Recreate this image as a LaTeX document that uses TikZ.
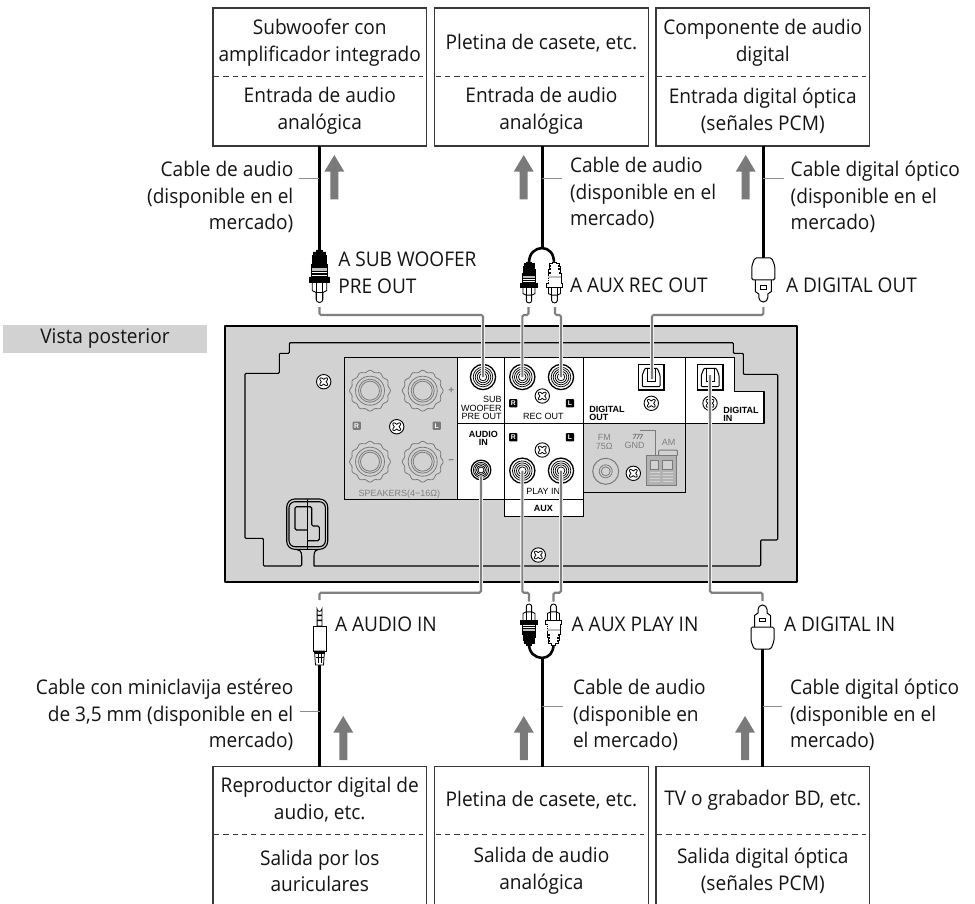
\documentclass[tikz,border=0pt]{standalone}
\usepackage{fontspec}
\setmainfont[FakeStretch=0.945]{Open Sans}
\newfontfamily\panelfont{Liberation Sans}
\definecolor{chassis}{HTML}{D2D2D2}
\definecolor{midgray}{HTML}{7A7A7A}
\definecolor{wiregray}{HTML}{808080}
\tikzset{
  devbox/.style={draw=black!78,line width=1.1pt,fill=white,minimum width=213.5pt,inner sep=0pt,outer sep=0pt},
  sepline/.style={draw=black!78,line width=.9pt,dash pattern=on 5.2pt off 4.1pt},
  txt/.style={font=\fontsize{20.2}{26.8}\selectfont,inner sep=0pt,outer sep=0pt,text=black!92},
  txtc/.style={txt,align=center,anchor=center},
  txtl/.style={txt,align=left,anchor=west},
  txtr/.style={txt,align=right,anchor=east},
  cable/.style={draw=black,line width=3pt},
  leader/.style={draw=black!45,line width=.9pt},
  wire/.style={draw=wiregray,line width=2.1pt,rounded corners=1.5pt,preaction={draw=white,line width=3.8pt}},
  flowarrow/.style={fill=midgray,draw=none},
  pan/.style={font=\panelfont\fontsize{9}{8.6}\selectfont,inner sep=0pt,outer sep=0pt,align=center},
  panb/.style={pan,font=\panelfont\bfseries\fontsize{9}{8.3}\selectfont},
  pang/.style={pan,text=black!50},
  outl/.style={draw=black,line width=1.1pt,rounded corners=1pt},
  grayl/.style={draw=black!52,line width=.8pt},
}
\newcommand{\flowup}[3]{\fill[flowarrow] (#1,#2)--(#1+10,#2+16.7)--(#1+4,#2+16.7)--(#1+4,#3)--(#1-4,#3)--(#1-4,#2+16.7)--(#1-10,#2+16.7)--cycle;}
\newcommand{\screw}[2]{\begin{scope}[shift={(#1,#2)}]
  \draw[black,fill=white,line width=.9pt] (0,0) circle (7.2);
  \draw[black,line width=.8pt] plot[domain=0:360,samples=49,smooth] ({cos(\x)*(3.7+1.3*cos(4*\x+180))},{sin(\x)*(3.7+1.3*cos(4*\x+180))});
\end{scope}}
\newcommand{\knob}[2]{\begin{scope}[shift={(#1,#2)}]
  \draw[grayl] plot[domain=0:360,samples=145,smooth] ({cos(\x)*(19.5+.9*cos(12*\x))},{sin(\x)*(19.5+.9*cos(12*\x))});
  \draw[grayl] (0,0) circle (14.5);
  \draw[grayl] (0,0) circle (11.5);
  \draw[grayl] (0,0) circle (9.5);
\end{scope}}
\newcommand{\socket}[3]{\begin{scope}[shift={(#1,#2)},scale=#3]
  \draw[black,fill=white,line width=1.3pt] (0,0) circle (12.6);
  \foreach \r in {9.8,7.8,5.8,3.8}{\draw[black,line width=.75pt] (0,0) circle (\r);}
\end{scope}}
\newcommand{\badgeN}[5]{\node[rectangle,rounded corners=.8pt,fill=#3,text=white,minimum size=8.2pt,inner sep=0pt,font=\panelfont\bfseries\fontsize{6.8}{7}\selectfont] (#5) at (#1,#2) {#4};}
\newcommand{\rca}[5]{%
\begin{scope}[shift={(#1,#2)},xscale=#3,yscale=#4]
  \draw[black,fill=white,line width=.9pt] (-3,34)--(-3,49.5) arc[start angle=180,end angle=0,radius=3] --(3,34)--cycle;
  \draw[black,fill=white,line width=.9pt] (-6.5,31)--(-6.5,40.5)--(-3,42.5)--(3,42.5)--(6.5,40.5)--(6.5,31)--cycle;
  \draw[black,line width=.9pt] (-3,31)--(-3,49.5) (3,31)--(3,49.5);
  \draw[black,fill=#5,line width=.7pt] (-2.5,0)--(2.5,0)--(2.5,2)--(5.5,2)--(5.5,4.5)--(4,4.5)--(4,5.5)--(6,5.5)--(6,8.5)--(4.5,8.5)--(4.5,9.5)--(6.5,9.5)--(6.5,13)--(5,13)--(5,14)--(7,14)--(7,27)--(9,27)--(9,32)--(-9,32)--(-9,27)--(-7,27)--(-7,14)--(-5,14)--(-5,13)--(-6.5,13)--(-6.5,9.5)--(-4.5,9.5)--(-4.5,8.5)--(-6,8.5)--(-6,5.5)--(-4,5.5)--(-4,4.5)--(-5.5,4.5)--(-5.5,2)--(-2.5,2)--cycle;
  \fill[white!75!black] (-6.6,18.5) rectangle (6.6,21);
  \fill[white] (-6.6,22.3) rectangle (6.6,23.3);
  \fill[white] (-6.6,24.6) rectangle (6.6,25.6);
\end{scope}}
\newcommand{\optical}[3]{\begin{scope}[shift={(#1,#2)},yscale=#3]
  \draw[black,fill=white,line width=1pt] (-8,20)--(-8,33.5)--(-4.5,36)--(-4.5,39.5) arc[start angle=180,end angle=0,radius=4.5] --(4.5,36)--(8,33.5)--(8,20)--cycle;
  \draw[black,line width=.8pt] (-3,27.5) rectangle (3,31);
  \draw[black,fill=white,line width=1pt,rounded corners=1.5pt] (-8.5,0)--(8.5,0)--(11.5,8)--(11.5,22)--(-11.5,22)--(-11.5,8)--cycle;
\end{scope}}
\begin{document}
\begin{tikzpicture}[x=1pt,y=-1pt]
\useasboundingbox (0,0) rectangle (975,904);

% ---------- section tag
\fill[chassis] (3,325) rectangle (206.7,352.7);
\node[txt] (tag) at (105,338.5) {Vista posterior};

% ---------- chassis
\draw[black,fill=chassis,line width=2.6pt,line join=round] (225,326) rectangle (797,582);
\draw[outl] (314,566)--(760.7,566)--(760.7,540)--(777.7,540)--(777.7,374.3)--(743.3,374.3)--(743.3,353.3)--(733.3,353.3)--(733.3,342.7)--(289.3,342.7)--(289.3,353.3)--(279.3,353.3)--(279.3,373.3)--(245,373.3)--(245,538.3)--(263.3,538.3)--(263.3,566)--(301.7,566)--(301.7,556);
\draw[black,line width=1.1pt] (301.7,556) .. controls (301.7,551) and (299,549.3) .. (296,549.3);
\draw[black,line width=1.1pt] (314,566)--(314,556) .. controls (314,551) and (316,549.3) .. (319,549.3);
\draw[black,line width=1.1pt,rounded corners=8pt] (286.7,499) rectangle (327.7,549.3);
\draw[black,line width=1.1pt,rounded corners=6pt] (289,501.7) rectangle (325.4,546.7);
\draw[black,line width=1.1pt,rounded corners=1.5pt] (307.3,530)--(295,530)--(295,506.7)--(311.7,506.7)--(311.7,526)--(319.3,526)--(319.3,540.7)--(307.3,540.7);
\draw[black,line width=1.1pt] (307.3,499)--(307.3,549.3);

% panels
\draw[black,fill=white,line width=1.1pt,line join=round] (457.7,357.7)--(734.3,357.7)--(734.3,391.7)--(764,391.7)--(764,423.3)--(685.7,423.3)--(685.7,492.3)--(583.3,492.3)--(583.3,516.7)--(504.3,516.7)--(504.3,499.3)--(457.7,499.3)--cycle;
\draw[black,fill=chassis,line width=1.1pt] (457.7,357.7)--(344.3,357.7)--(344.3,499.3)--(457.7,499.3)--cycle;
\draw[black,fill=chassis,line width=1.1pt] (583.3,423.3)--(685.7,423.3)--(685.7,492.3)--(583.3,492.3)--cycle;
\draw[black,line width=1.1pt] (457.7,423.3)--(583.3,423.3) (504.3,357.7)--(504.3,516.7) (583.3,357.7)--(583.3,516.7) (685.7,357.7)--(685.7,423.3) (504.3,499.3)--(583.3,499.3);

% speakers
\knob{370}{390.7}\knob{422.7}{390.7}\knob{370}{461.7}\knob{422.7}{461.7}
\node[pang,font=\panelfont\bfseries\fontsize{10}{10}\selectfont] (plus) at (451.3,390.7) {+};
\node[pang,font=\panelfont\bfseries\fontsize{10}{10}\selectfont] (minus) at (451.3,461.7) {−};
\node[pang] (spk) at (399.3,493.7) {SPEAKERS(4−16Ω)};
\badgeN{356.7}{425.7}{midgray}{R}{sr}
\badgeN{436.7}{425.7}{midgray}{L}{sl}
% screws
\screw{323.7}{381.7}\screw{396.7}{426.7}\screw{542.3}{396}\screw{542.3}{450}\screw{538.3}{555}\screw{651.3}{403.3}\screw{710}{403.3}\screw{633.3}{473.3}
% sockets
\socket{483}{377}{1}\socket{522.3}{377}{1}\socket{561}{377}{1}
\socket{481}{470}{.78}\socket{522.3}{470.7}{1}\socket{561}{470.7}{1}
\badgeN{513.3}{403.3}{black}{R}{rr}
\badgeN{570}{403.3}{black}{L}{rl}
\badgeN{513.3}{437.3}{black}{R}{pr}
\badgeN{570}{437.3}{black}{L}{pl}
% panel texts
\node[pan,align=right,anchor=east] (subt) at (501.7,408.2) {SUB\\WOOFER\\PRE OUT};
\node[pan] (rect) at (543.3,416.3) {REC OUT};
\node[panb] (audt) at (483.3,438.5) {AUDIO\\IN};
\node[pan] (playt) at (543.3,491.7) {PLAY IN};
\node[panb] (auxt) at (543.3,508.3) {AUX};
\node[panb,align=left,anchor=west] (digo) at (589.3,413.3) {DIGITAL\\OUT};
\node[panb,align=left,anchor=west] (digi) at (723.3,414.3) {DIGITAL\\IN};
% tuner
\node[pang] (fm) at (604.3,442.2) {FM\\75Ω};
\node[pang] (gnd) at (634.7,445) {GND};
\node[pang] (am) at (668.7,442.3) {AM};
\draw[grayl,line width=1pt] (605.7,471.3) circle (13);
\draw[grayl] (605.7,471.3) circle (6.5);
\draw[grayl] (605.7,471.3) circle (4.5);
\draw[grayl,fill=black!30,line width=1pt] (646.3,455.7) rectangle (676.7,485.7);
\draw[grayl,fill=chassis] (650,460) rectangle (658.7,469.3);
\draw[grayl,fill=chassis] (662.7,460) rectangle (672,469.3);
\foreach \yy in {472,475,478,481}{\draw[chassis,line width=1pt] (649.5,\yy)--(659.5,\yy) (663,\yy)--(673,\yy);}
\draw[grayl,line width=1pt] (655.3,455.7)--(655.3,430)--(640,430);
\draw[grayl] (632.7,434.3)--(642.7,434.3) (636,434.3)--(633.5,439) (639.5,434.3)--(637,439) (642.7,434.3)--(640.2,439);
\draw[grayl,line width=1pt,rounded corners=1pt] (658.7,455.7)--(658.7,450)--(677.3,450)--(677.3,455.7);
% optical sockets
\foreach \dx in {0,59}{
\begin{scope}[xshift=\dx pt]
\draw[black,fill=white,line width=1.2pt] (638.3,364.3) rectangle (664,390);
\draw[black,line width=1pt,rounded corners=1pt] (642.3,386.7)--(642.3,375)--(645,368.3)--(657.3,368.3)--(660,375)--(660,386.7)--cycle;
\draw[black,line width=1pt] (647.3,368.3)--(647.3,381.7)--(655,381.7)--(655,368.3);
\end{scope}}

% ---------- device boxes (top)
\node[devbox,minimum height=138pt,anchor=north west] (t1) at (213,8) {};
\node[devbox,minimum height=138pt,anchor=north west] (t2) at (434.7,8) {};
\node[devbox,minimum height=138pt,anchor=north west] (t3) at (656,8) {};
\foreach \b in {t1,t2,t3}{\draw[sepline] ([xshift=1pt]\b.north west |- 0,76) -- ([xshift=-4pt]\b.north east |- 0,76);}
\node[txtc] (t1a) at (t1.north |- 0,43) {Subwoofer con\\amplificador integrado};
\node[txtc] (t1b) at (t1.north |- 0,111) {Entrada de audio\\analógica};
\node[txtc] (t2a) at (t2.north |- 0,43) {Pletina de casete, etc.};
\node[txtc] (t2b) at (t2.north |- 0,111) {Entrada de audio\\analógica};
\node[txtc] (t3a) at (t3.north |- 0,43) {Componente de audio\\digital};
\node[txtc] (t3b) at (t3.north |- 0,111) {Entrada digital óptica\\(señales PCM)};

% ---------- device boxes (bottom)
\node[devbox,minimum height=150pt,anchor=north west] (b1) at (213,766.7) {};
\node[devbox,minimum height=150pt,anchor=north west] (b2) at (434.7,766.7) {};
\node[devbox,minimum height=150pt,anchor=north west] (b3) at (656,766.7) {};
\foreach \b in {b1,b2,b3}{\draw[sepline] ([xshift=1pt]\b.north west |- 0,834.3) -- ([xshift=-4pt]\b.north east |- 0,834.3);}
\node[txtc] (b1a) at (b1.north |- 0,800) {Reproductor digital de\\audio, etc.};
\node[txtc] (b1b) at (b1.north |- 0,871) {Salida por los\\auriculares};
\node[txtc] (b2a) at (b2.north |- 0,800) {Pletina de casete, etc.};
\node[txtc] (b2b) at (b2.north |- 0,871) {Salida de audio\\analógica};
\node[txtc] (b3a) at (b3.north |- 0,800) {TV o grabador BD, etc.};
\node[txtc] (b3b) at (b3.north |- 0,871) {Salida digital óptica\\(señales PCM)};

% ---------- cables top
\coordinate (c1) at (319,250);
\coordinate (c2) at (542,248);
\coordinate (c3) at (763.3,258);
\draw[cable] (c1 |- t1.south) -- (c1);
\draw[cable] (c2 |- t2.south) -- (c2);
\draw[cable] (c3 |- t3.south) -- (c3);
\draw[cable,line width=2.6pt] (529,263) .. controls (529,253) and (535,248.5) .. (c2) .. controls (549,248.5) and (554,253) .. (554,263);
\rca{319.5}{250}{1.12}{1}{black}
\rca{529}{262}{.92}{.78}{black}
\rca{554.5}{262}{.92}{.78}{white}
\optical{763.3}{258}{1}
% wires top
\coordinate (so1) at (483,377);
\coordinate (so2) at (522.3,377);
\coordinate (so3) at (561,377);
\coordinate (so4) at (652,379);
\draw[wire] (319.5,307)--(319.5,315)--(so1 |- 0,315)--(so1);
\draw[wire] (528.5,307)--(528.5,315)--(so2 |- 0,315)--(so2);
\draw[wire] (555,307)--(555,315)--(so3 |- 0,315)--(so3);
\draw[wire] (763.3,307)--(763.3,315)--(so4 |- 0,315)--(so4);

% ---------- cables bottom
\coordinate (d1) at (319.5,665);
\coordinate (d2) at (542,658);
\coordinate (d3) at (762.5,649);
\draw[cable] (d1) -- (d1 |- b1.north);
\draw[cable] (d2) -- (d2 |- b2.north);
\draw[cable] (d3) -- (d3 |- b3.north);
\draw[cable,line width=2.6pt] (529,644) .. controls (529,653) and (535,657.5) .. (d2) .. controls (549,657.5) and (553.5,653) .. (553.5,644);
\rca{529}{645}{.92}{-.78}{black}
\rca{553.5}{645}{.92}{-.78}{white}
\optical{762.5}{649}{-1}
% mini plug
\begin{scope}[shift={(319.5,0)}]
  \draw[black,line width=.8pt,fill=white] (-2.4,626)--(-2.4,609) arc[start angle=180,end angle=0,radius=2.4] --(2.4,626)--cycle;
  \fill[black] (-2.4,614.5) rectangle (2.4,616) (-2.4,619.5) rectangle (2.4,621);
  \draw[black,line width=.9pt,fill=white] (-6.5,626) rectangle (6.5,651);
  \draw[black,line width=.8pt,fill=white] (-5,651) -- (5,651) -- (4,665) -- (-4,665) -- cycle;
  \fill[black] (-5,651) rectangle (5,653.5);
  \draw[black,line width=.8pt] (-1.6,653)--(-1.6,663) (1.6,653)--(1.6,663) (-4,657)--(4,657);
\end{scope}
% wires bottom
\coordinate (si1) at (481,477);
\coordinate (si2) at (522.3,470.7);
\coordinate (si3) at (561,470.7);
\coordinate (si4) at (710,375);
\draw[wire] (319.5,600)--(319.5,592.7)--(si1 |- 0,592.7)--(si1);
\draw[wire] (529,601.5)--(529,592.7)--(si2 |- 0,592.7)--(si2);
\draw[wire] (553.5,601.5)--(553.5,592.7)--(si3 |- 0,592.7)--(si3);
\draw[wire] (762.5,601)--(762.5,592.7)--(si4 |- 0,592.7)--(si4);

% ---------- flow arrows
\flowup{334.3}{155}{199.3}
\flowup{523.7}{155}{199.3}
\flowup{745.7}{155}{199.3}
\flowup{343.3}{716}{760}
\flowup{523.8}{716}{760}
\flowup{745}{716}{760}

% ---------- leaders
\draw[leader] (299.3,178.3)--(c1 |- 0,178.3);
\draw[leader] (c2 |- 0,178.3)--(561.7,178.3);
\draw[leader] (c3 |- 0,178.3)--(784,178.3);
\draw[leader] (300,711.7)--(d1 |- 0,711.7);
\draw[leader] (d2 |- 0,706)--(563,706);
\draw[leader] (d3 |- 0,706)--(782.4,706);

% ---------- cable captions
\node[txtr] (l1) at (293.3,197) {Cable de audio\\(disponible en el\\mercado)};
\node[txtl] (l2) at (570,193) {Cable de audio\\(disponible en el\\mercado)};
\node[txtl] (l3) at (790.7,197) {Cable digital óptico\\(disponible en el\\mercado)};
\node[txtr] (l4) at (293.3,715) {Cable con miniclavija estéreo\\de 3,5 mm (disponible en el\\mercado)};
\node[txtl] (l5) at (573,715) {Cable de audio\\(disponible en\\el mercado)};
\node[txtl] (l6) at (790,715) {Cable digital óptico\\(disponible en el\\mercado)};

% ---------- plug captions
\node[txtl] (p1) at (338.3,273) {A SUB WOOFER\\PRE OUT};
\node[txtl] (p2) at (570,285.5) {A AUX REC OUT};
\node[txtl] (p3) at (786,285.5) {A DIGITAL OUT};
\node[txtl] (p4) at (335,624) {A AUDIO IN};
\node[txtl] (p5) at (571.7,624) {A AUX PLAY IN};
\node[txtl] (p6) at (784,624) {A DIGITAL IN};
\end{tikzpicture}
\end{document}
